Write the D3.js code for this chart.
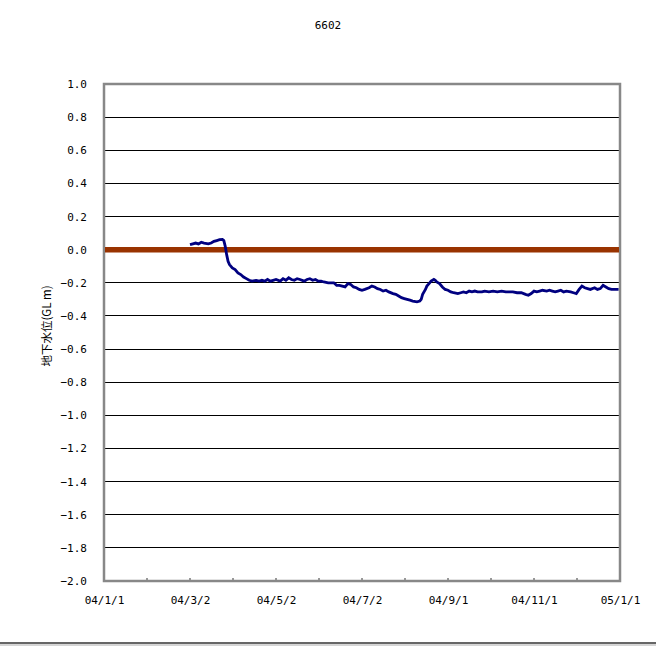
<!DOCTYPE html>
<html><head><meta charset="utf-8">
<script src="https://cdn.jsdelivr.net/npm/d3@7"></script>
<style>body{margin:0;background:#fff;} svg{display:block;}</style>
</head><body>
<svg id="c" width="656" height="652"></svg>
<script>
const title = "6602";
const yLabel = "地下水位(GL m)";
const yTicks = [1.0,0.8,0.6,0.4,0.2,0.0,-0.2,-0.4,-0.6,-0.8,-1.0,-1.2,-1.4,-1.6,-1.8,-2.0];
const xTickLabels = ["04/1/1","04/3/2","04/5/2","04/7/2","04/9/1","04/11/1","05/1/1"];
const xTickDates = ["2004-01-01","2004-03-02","2004-05-02","2004-07-02","2004-09-01","2004-11-01","2005-01-01"];
const referenceLevel = 0.0;
// days after 2004-01-01
const dayOffsets = [61,63,65,67,69,71,74,76,78,80,82,84,85,86,87,88,89,91,93,95,97,99,101,103,105,
108,110,112,114,116,118,120,122,125,127,129,131,133,135,137,139,142,144,146,148,150,152,154,156,159,
161,163,165,167,169,171,173,175,177,179,181,183,185,188,190,192,194,196,198,200,202,205,207,209,211,
213,215,217,219,222,224,225,226,228,229,231,232,234,235,236,238,240,242,244,246,248,251,253,255,257,
259,261,263,265,268,270,273,276,279,282,285,287,290,293,296,299,301,303,305,307,309,311,314,316,318,
320,322,324,326,328,331,333,335,337,339,341,343,345,348,350,352,354,356,358,360,362,365];
const levels = [0.03,0.035,0.04,0.035,0.045,0.04,0.035,0.04,0.05,0.055,0.06,0.062,0.055,0.02,-0.03,-0.07,-0.09,-0.11,-0.12,-0.14,-0.15,-0.165,-0.175,-0.185,-0.19,
-0.185,-0.19,-0.185,-0.19,-0.18,-0.19,-0.185,-0.18,-0.19,-0.175,-0.185,-0.17,-0.18,-0.185,-0.175,-0.18,-0.19,-0.18,-0.175,-0.185,-0.18,-0.19,-0.19,-0.195,-0.2,
-0.2,-0.2,-0.215,-0.215,-0.22,-0.225,-0.205,-0.21,-0.225,-0.23,-0.24,-0.245,-0.24,-0.23,-0.22,-0.225,-0.235,-0.24,-0.25,-0.245,-0.255,-0.265,-0.27,-0.28,-0.29,
-0.295,-0.3,-0.305,-0.31,-0.315,-0.31,-0.3,-0.27,-0.24,-0.22,-0.2,-0.19,-0.18,-0.185,-0.195,-0.205,-0.225,-0.24,-0.245,-0.255,-0.26,-0.265,-0.26,-0.255,-0.26,
-0.25,-0.255,-0.25,-0.255,-0.255,-0.25,-0.255,-0.25,-0.255,-0.25,-0.255,-0.255,-0.255,-0.26,-0.26,-0.27,-0.275,-0.265,-0.25,-0.255,-0.25,-0.245,-0.25,-0.245,-0.25,
-0.255,-0.25,-0.245,-0.255,-0.25,-0.255,-0.26,-0.265,-0.24,-0.22,-0.23,-0.235,-0.24,-0.23,-0.24,-0.235,-0.215,-0.225,-0.235,-0.24,-0.24,-0.24];

const svg = d3.select("#c");
const L=104, R=620, T=84, B=581;
const parse = d3.utcParse("%Y-%m-%d");
const start = parse("2004-01-01");
const x = d3.scaleUtc().domain([start, parse("2005-01-01")]).range([L,R]);
const y = d3.scaleLinear().domain([-2,1]).range([B,T]);
const fontMono = "'DejaVu Sans Mono', 'Liberation Mono', monospace";

svg.append("text").attr("x",328).attr("y",29).attr("text-anchor","middle")
  .style("font-family",fontMono).style("font-size","11px").text(title);

// gridlines
svg.append("g").selectAll("line").data(yTicks.filter(v=>v>-2&&v<1)).join("line")
  .attr("x1",L).attr("x2",R).attr("y1",d=>y(d)).attr("y2",d=>y(d))
  .attr("stroke","#000").attr("stroke-width",1).attr("shape-rendering","crispEdges");

// y axis labels
const ya = svg.append("g").attr("transform",`translate(${L},0)`)
  .call(d3.axisLeft(y).tickValues(yTicks).tickSize(0).tickPadding(17).tickFormat(d3.format(".1f")));
ya.select(".domain").remove();
ya.selectAll("text").style("font-family",fontMono).style("font-size","11px").attr("fill","#000");

// x axis minor/major ticks (inside, upward)
const tickDates = d3.range(0,13).map(i=>new Date(start.getTime()+i*30.5*86400000));
svg.append("g").selectAll("line").data(tickDates).join("line")
  .attr("x1",d=>x(d)).attr("x2",d=>x(d)).attr("y1",B).attr("y2",B-3)
  .attr("stroke","#333").attr("stroke-width",1);

const xa = svg.append("g").attr("transform",`translate(0,${B})`)
  .call(d3.axisBottom(x).tickValues(xTickDates.map(parse)).tickSize(0).tickPadding(15)
  .tickFormat((d,i)=>xTickLabels[i]));
xa.select(".domain").remove();
xa.selectAll("text").style("font-family",fontMono).style("font-size","11px").attr("fill","#000");

// frame
svg.append("rect").attr("x",L).attr("y",T).attr("width",R-L).attr("height",B-T)
  .attr("fill","none").attr("stroke","#888").attr("stroke-width",2.5);

// reference line
svg.append("line").attr("x1",L+1).attr("x2",R-1).attr("y1",y(referenceLevel)).attr("y2",y(referenceLevel))
  .attr("stroke","#993300").attr("stroke-width",5.5);

// data line
const pts = dayOffsets.map((d,i)=>[new Date(start.getTime()+d*86400000), levels[i]]);
svg.append("path").datum(pts)
  .attr("d", d3.line().x(d=>x(d[0])).y(d=>y(d[1])))
  .attr("fill","none").attr("stroke","#000080").attr("stroke-width",2.8).attr("stroke-linejoin","miter");

// y label
svg.append("text").attr("transform","translate(51,326) rotate(-90)").attr("text-anchor","middle")
  .style("font-family","'Noto Sans CJK JP', sans-serif").style("font-size","11.5px").text(yLabel);

// bottom rule
svg.append("line").attr("x1",0).attr("x2",656).attr("y1",643).attr("y2",643).attr("stroke","#333").attr("stroke-width",1.5);
svg.append("line").attr("x1",0).attr("x2",656).attr("y1",645).attr("y2",645).attr("stroke","#aaa").attr("stroke-width",1);
</script>
</body></html>
